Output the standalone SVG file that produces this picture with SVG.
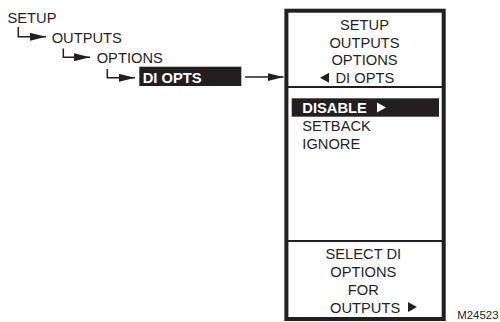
<svg xmlns="http://www.w3.org/2000/svg" width="500" height="322" viewBox="0 0 500 322">
<defs>
<style>
text{font-family:"Liberation Sans",Arial,sans-serif;font-size:14.7px;fill:#231f20}
.b{font-weight:bold;fill:#fff}
.c{text-anchor:middle}
.ln{stroke:#231f20;stroke-width:1.5;fill:none}
</style>
<marker id="ah" viewBox="0 0 16 8" refX="16" refY="4" markerWidth="16" markerHeight="8" markerUnits="userSpaceOnUse" orient="auto">
<path d="M0,0L16,4L0,8z" fill="#231f20"/>
</marker>
</defs>
<rect width="500" height="322" fill="#fff"/>
<g id="menu-path">
<text x="7.5" y="22.7">SETUP</text>
<text x="51.7" y="42.7">OUTPUTS</text>
<text x="96.7" y="63.3">OPTIONS</text>
</g>
<g id="di-opts">
<rect x="139.3" y="66.7" width="102" height="19.3" fill="#231f20"/>
<text class="b" x="142.7" y="82.5">DI OPTS</text>
</g>
<g id="connectors">
<path class="ln" d="M18.3,27V36.8H46" marker-end="url(#ah)"/>
<path class="ln" d="M63.3,48.5V57.2H90" marker-end="url(#ah)"/>
<path class="ln" d="M107.3,69V77.8H135" marker-end="url(#ah)"/>
<path class="ln" d="M245,77H283.5" marker-end="url(#ah)"/>
</g>
<g id="display">
<rect x="286.4" y="10.7" width="157.3" height="308.3" fill="none" stroke="#231f20" stroke-width="4"/>
<line x1="288" y1="87" x2="442" y2="87" stroke="#231f20" stroke-width="1.8"/>
<line x1="288" y1="241" x2="442" y2="241" stroke="#231f20" stroke-width="1.8"/>
<text class="c" x="364.5" y="30">SETUP</text>
<text class="c" x="364.5" y="47.5">OUTPUTS</text>
<text class="c" x="364.5" y="65">OPTIONS</text>
<path d="M320,77.8L329,72.8V82.8z" fill="#231f20"/>
<text x="335.5" y="82.7">DI OPTS</text>
<rect x="291.7" y="98.3" width="147.3" height="18.4" fill="#231f20"/>
<text class="b" x="302.3" y="113.3">DISABLE</text>
<path d="M377,102.5L386,107.5L377,112.5z" fill="#fff"/>
<text x="302.3" y="130.7">SETBACK</text>
<text x="302.3" y="149.3">IGNORE</text>
<text class="c" x="363.3" y="259.3">SELECT DI</text>
<text class="c" x="363.3" y="277.3">OPTIONS</text>
<text class="c" x="363.3" y="295.3">FOR</text>
<text x="330" y="312.7">OUTPUTS</text>
<path d="M408,302L417,307L408,312z" fill="#231f20"/>
</g>
<text x="457.3" y="318.5" style="font-size:11.4px">M24523</text>
</svg>
